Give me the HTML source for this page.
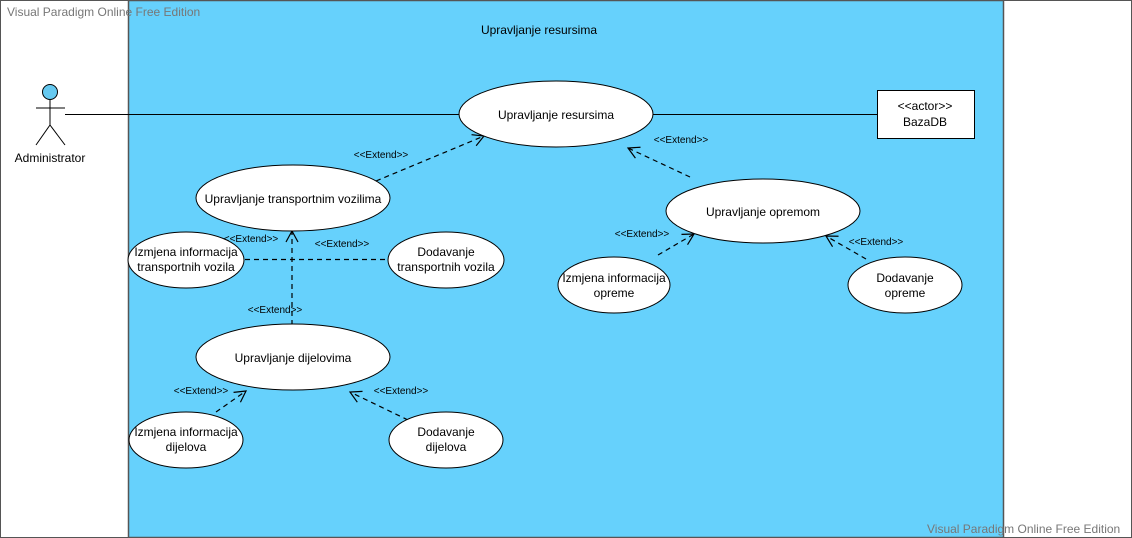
<!DOCTYPE html>
<html><head><meta charset="utf-8"><style>
html,body{margin:0;padding:0;background:#fff;}
svg{display:block;font-family:"Liberation Sans",Arial,sans-serif;}
</style></head><body>
<svg width="1132" height="538" viewBox="0 0 1132 538" xmlns="http://www.w3.org/2000/svg">
<defs>
<marker id="ar" markerWidth="14" markerHeight="14" refX="12" refY="7" orient="auto" markerUnits="userSpaceOnUse">
<path d="M1,1 L12,7 L1,13" fill="none" stroke="#000" stroke-width="1.2"/>
</marker>
</defs>
<rect x="0.5" y="0.5" width="1131" height="537" fill="#fff" stroke="#555"/>
<rect x="128.5" y="0.5" width="875" height="537" fill="#66d1fc" stroke="#555" stroke-width="1.5"/>
<text x="7" y="16" font-size="12" fill="#777">Visual Paradigm Online Free Edition</text>
<text x="927" y="533" font-size="12" fill="#777">Visual Paradigm Online Free Edition</text>
<text x="539" y="34" font-size="12" text-anchor="middle">Upravljanje resursima</text>

<!-- actor -->
<circle cx="50" cy="92" r="7.5" fill="#66c9f0" stroke="#000"/>
<line x1="50" y1="100" x2="50" y2="125" stroke="#000"/>
<line x1="36" y1="108" x2="65" y2="108" stroke="#000"/>
<line x1="50" y1="125" x2="36" y2="145" stroke="#000"/>
<line x1="50" y1="125" x2="65" y2="145" stroke="#000"/>
<text x="50" y="162" font-size="12" text-anchor="middle">Administrator</text>

<line x1="65" y1="114.5" x2="460" y2="114.5" stroke="#000"/>
<line x1="652" y1="114.5" x2="877" y2="114.5" stroke="#000"/>
<rect x="877.5" y="90.5" width="97" height="48" fill="#fff" stroke="#000"/>
<text x="925" y="110" font-size="12" text-anchor="middle">&lt;&lt;actor&gt;&gt;</text>
<text x="925" y="126" font-size="12" text-anchor="middle">BazaDB</text>

<g stroke="#000" stroke-dasharray="5,4" stroke-width="1.2" fill="none">
<line x1="376" y1="181" x2="484" y2="136" marker-end="url(#ar)"/>
<line x1="690" y1="177" x2="628" y2="148" marker-end="url(#ar)"/>
<line x1="658" y1="255" x2="694" y2="234" marker-end="url(#ar)"/>
<line x1="866" y1="259" x2="826" y2="236" marker-end="url(#ar)"/>
<line x1="292" y1="325" x2="292" y2="231" marker-end="url(#ar)"/>
<line x1="245" y1="259.5" x2="388" y2="259.5"/>
<line x1="216" y1="412" x2="246" y2="391" marker-end="url(#ar)"/>
<line x1="408" y1="420" x2="350" y2="392" marker-end="url(#ar)"/>
</g>

<g fill="#fff" stroke="#000" stroke-width="1">
<ellipse cx="556" cy="114" rx="97" ry="33"/>
<ellipse cx="293" cy="198" rx="97" ry="33"/>
<ellipse cx="186" cy="260" rx="58" ry="28"/>
<ellipse cx="446" cy="260" rx="58" ry="28"/>
<ellipse cx="293" cy="357" rx="97" ry="33"/>
<ellipse cx="186" cy="440" rx="57" ry="28"/>
<ellipse cx="446" cy="440" rx="57" ry="28"/>
<ellipse cx="763" cy="211" rx="97" ry="32"/>
<ellipse cx="614" cy="285" rx="56" ry="28"/>
<ellipse cx="905" cy="285" rx="57" ry="28"/>
</g>

<g font-size="12" text-anchor="middle">
<text x="556" y="119">Upravljanje resursima</text>
<text x="293" y="203">Upravljanje transportnim vozilima</text>
<text x="186" y="256">Izmjena informacija</text>
<text x="186" y="271">transportnih vozila</text>
<text x="446" y="256">Dodavanje</text>
<text x="446" y="271">transportnih vozila</text>
<text x="293" y="362">Upravljanje dijelovima</text>
<text x="186" y="436">Izmjena informacija</text>
<text x="186" y="451">dijelova</text>
<text x="446" y="436">Dodavanje</text>
<text x="446" y="451">dijelova</text>
<text x="763" y="216">Upravljanje opremom</text>
<text x="614" y="282">Izmjena informacija</text>
<text x="614" y="297">opreme</text>
<text x="905" y="282">Dodavanje</text>
<text x="905" y="297">opreme</text>
</g>

<g font-size="10" text-anchor="middle">
<text x="381" y="158">&lt;&lt;Extend&gt;&gt;</text>
<text x="681" y="143">&lt;&lt;Extend&gt;&gt;</text>
<text x="251" y="242">&lt;&lt;Extend&gt;&gt;</text>
<text x="342" y="247">&lt;&lt;Extend&gt;&gt;</text>
<text x="275" y="313">&lt;&lt;Extend&gt;&gt;</text>
<text x="642" y="237">&lt;&lt;Extend&gt;&gt;</text>
<text x="876" y="245">&lt;&lt;Extend&gt;&gt;</text>
<text x="201" y="394">&lt;&lt;Extend&gt;&gt;</text>
<text x="401" y="394">&lt;&lt;Extend&gt;&gt;</text>
</g>
</svg>
</body></html>
